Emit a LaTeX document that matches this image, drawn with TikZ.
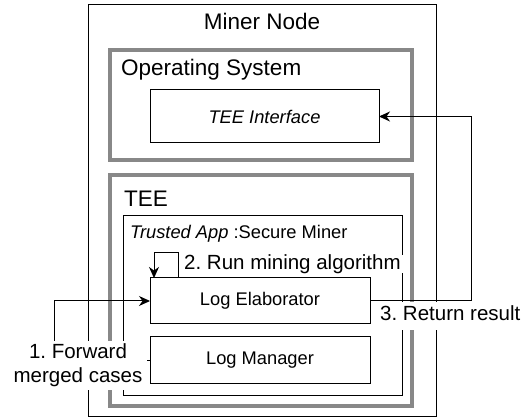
\documentclass[tikz,border=0pt]{standalone}
\usepackage{fontspec}
\setmainfont{Liberation Sans}
\usetikzlibrary{arrows.meta}
\definecolor{grayline}{RGB}{136,136,136}
\frenchspacing
\begin{document}
\begin{tikzpicture}[x=1pt,y=-1pt,
  thinbox/.style={draw=black, line width=1pt, inner sep=0pt, outer sep=0pt, fill=none},
  graybox/.style={draw=grayline, line width=4pt, inner sep=0pt, outer sep=0pt},
  bigtxt/.style={font=\fontsize{22.5}{27}\selectfont, inner sep=0pt},
  midtxt/.style={font=\fontsize{18.3}{22}\selectfont},
  edgetxt/.style={font=\fontsize{20.5}{24}\selectfont, fill=white, inner ysep=0pt},
  conn/.style={draw=black, line width=1pt, -{Stealth[length=11pt,width=10pt,inset=3.5pt]}},
  plain/.style={draw=black, line width=1pt}]
\useasboundingbox (0,0) rectangle (525,419);
\fill[white] (0,0) rectangle (525,419);

% containers
\node[thinbox, minimum width=348, minimum height=412] (miner) at (262,211) {};
\node[bigtxt, anchor=base] (minerlbl) at (262,30) {Miner Node};

\node[graybox, minimum width=302, minimum height=110] (os) at (261,105) {};
\node[bigtxt, anchor=base west] (oslbl) at (121,76) {Operating System};

\node[thinbox, midtxt, minimum width=229, minimum height=53] (tei) at (264.5,116.5) {\itshape TEE Interface};

\node[graybox, minimum width=302, minimum height=231] (tee) at (261,290.5) {};
\node[bigtxt, anchor=base west] (teelbl) at (124,207) {TEE};

\node[thinbox, minimum width=279, minimum height=180] (app) at (262.5,306) {};
\node[midtxt, inner sep=0pt, anchor=base west] (applbl) at (130,239) {\itshape Trusted App\upshape\ :Secure Miner};

\node[thinbox, midtxt, minimum width=220, minimum height=46] (le) at (260,301) {Log Elaborator};
\node[thinbox, midtxt, minimum width=220, minimum height=47] (lm) at (260,360.5) {Log Manager};

% connectors
\coordinate (fwd) at (54,360.5);
\draw[conn] (lm.west) -- (fwd) |- (le.west);

\draw[conn] ([xshift=-82pt]le.north) -- ++(0,-25) -| ([xshift=-106pt]le.north);

\coordinate (ret) at (471,301);
\draw[conn] (le.east) -- (ret) |- (tei.east);

% labels
\node[edgetxt, align=center, inner xsep=5pt, inner ysep=3pt, anchor=base] (l1) at (78,383)
  {1. Forward\\merged cases};
\node[edgetxt, inner xsep=4pt, text height=15pt, text depth=3pt, anchor=base west] (l2) at (180,270)
  {2. Run mining algorithm};
\node[edgetxt, inner xsep=8pt, text height=18pt, text depth=9.5pt, anchor=base west] (l3) at (372,320.5)
  {3. Return result};
\end{tikzpicture}
\end{document}
